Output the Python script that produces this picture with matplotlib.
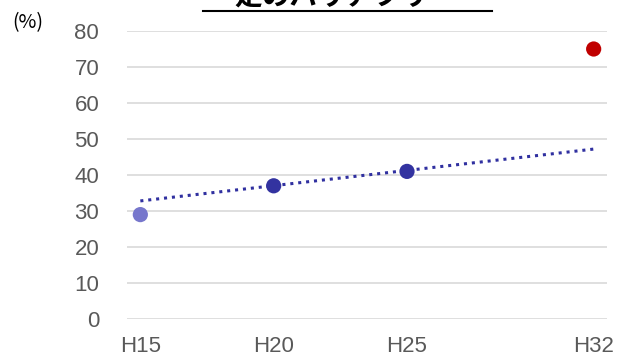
import matplotlib.pyplot as plt
from matplotlib.lines import Line2D

# 年度（平成）と達成率（%）
years = [15, 20, 25, 32]
year_labels = ['H15', 'H20', 'H25', 'H32']
rates = [29, 37, 41, 75]
point_colors = ['#7777CC', '#3333A0', '#3333A0', '#C00000']

# 近似線の両端
trend_years = [15, 32]
trend_values = [32.8, 47.2]

plt.rcParams['font.family'] = ['Liberation Sans', 'Noto Sans CJK JP']

fig = plt.figure(figsize=(6.18, 3.57), dpi=100)
ax = fig.add_axes([127 / 618, 1 - 319 / 357, 480 / 618, 288 / 357])

ax.plot(trend_years, trend_values, linestyle=(0, (1, 1.6)), color='#3030A0',
        linewidth=2.2, zorder=2)
ax.scatter(years, rates, s=120, c=point_colors, zorder=3, linewidths=0)

ax.set_xlim(14.5, 32.5)
ax.set_ylim(0, 80)
ax.set_yticks(range(0, 81, 10))
ax.set_xticks(years)
ax.set_xticklabels(year_labels)
ax.grid(axis='y', color='#D9D9D9', linewidth=1.2, zorder=0)
ax.set_axisbelow(True)
for s in ax.spines.values():
    s.set_visible(False)
ax.tick_params(length=0, labelsize=16, labelcolor='#595959')
ax.tick_params(axis='y', pad=20)
ax.tick_params(axis='x', pad=12)

fig.text(12 / 618, 1 - 23 / 357, '(%)', fontsize=14, va='center',
         family=['Noto Sans CJK JP', 'DejaVu Sans'])

# タイトル（上端で切れている）
fig.text(345 / 618, 1 - 6 / 357, '定のバリアフリー', fontsize=20, fontweight='bold',
         ha='center', va='baseline', family=['Noto Sans CJK JP'])
fig.add_artist(Line2D([203 / 618, 492 / 618], [1 - 11 / 357, 1 - 11 / 357],
                      color='black', linewidth=1.5))

fig.savefig('out.png', dpi=100)
